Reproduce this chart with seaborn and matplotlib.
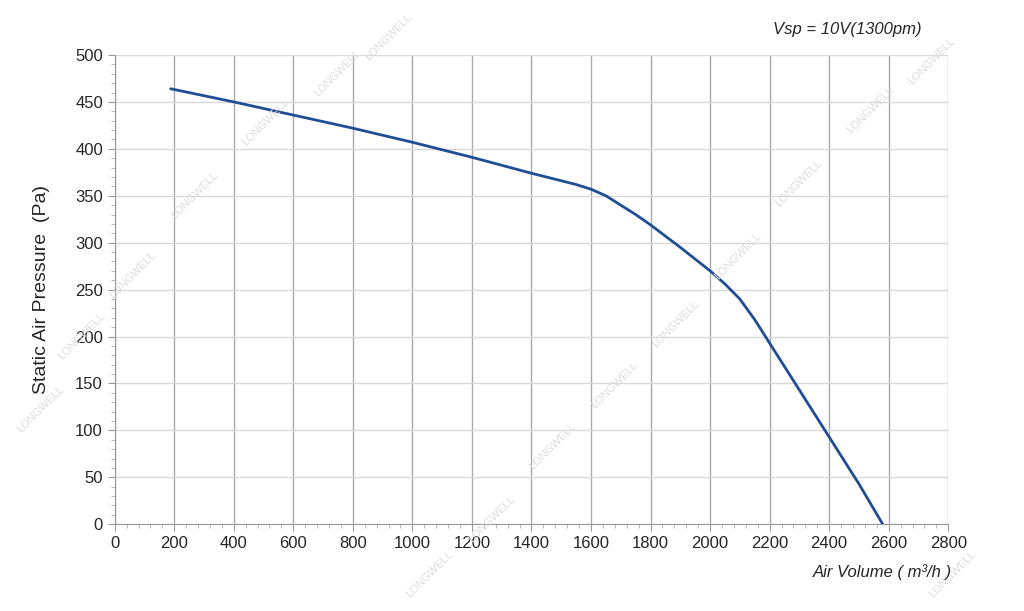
import numpy as np
import pandas as pd
import matplotlib
matplotlib.use("Agg")
import matplotlib.pyplot as plt
import seaborn as sns
from matplotlib.ticker import MultipleLocator

air_volume = [188, 400, 600, 800, 1000, 1200, 1400, 1500, 1550, 1600, 1650, 1700, 1750, 1800, 1900, 2000, 2050, 2100, 2150, 2200, 2300, 2400, 2500, 2580]
pressure = [464, 450, 436, 422, 407, 391, 374, 366, 362, 357, 350, 340, 330, 319, 295, 270, 256, 240, 218, 193, 143, 93, 43, 0]

df = pd.DataFrame({"air_volume": air_volume, "pressure": pressure})

sns.set_style("white")
plt.rcParams['font.family'] = ['Liberation Sans', 'DejaVu Sans']

fig = plt.figure(figsize=(10.24, 6.11), dpi=100)
ax = fig.add_axes([0.112, 0.142, 0.814, 0.768])

# faint watermarks
for wx, wy in [(0.04, 0.33), (0.08, 0.45), (0.13, 0.55), (0.19, 0.68), (0.26, 0.8), (0.33, 0.88),
               (0.38, 0.94), (0.42, 0.06), (0.48, 0.15), (0.54, 0.27), (0.6, 0.37), (0.66, 0.47),
               (0.72, 0.58), (0.78, 0.7), (0.85, 0.82), (0.91, 0.9), (0.93, 0.06)]:
    fig.text(wx, wy, "LONGWELL", rotation=45, color="#dcdcdc", fontsize=8, ha="center", va="center")

sns.lineplot(data=df, x="air_volume", y="pressure", ax=ax, color="#1f4e96", linewidth=2)

ax.set_xlim(0, 2800)
ax.set_ylim(0, 500)
ax.xaxis.set_major_locator(MultipleLocator(200))
ax.xaxis.set_minor_locator(MultipleLocator(40))
ax.yaxis.set_major_locator(MultipleLocator(50))
ax.yaxis.set_minor_locator(MultipleLocator(10))
ax.grid(which="major", axis="x", color="#aaaaaa", linewidth=1)
ax.grid(which="major", axis="y", color="#d9d9d9", linewidth=1)
ax.tick_params(which="major", length=5, color="#999999", labelsize=12, direction="out", bottom=True, left=True)
ax.tick_params(which="minor", length=3, color="#aaaaaa", direction="out", bottom=True, left=True)
for s in ["top", "right"]:
    ax.spines[s].set_visible(False)
for s in ["left", "bottom"]:
    ax.spines[s].set_color("#999999")

ax.set_xlabel("")
ax.set_ylabel("Static Air Pressure  (Pa)", fontsize=14, labelpad=18)
fig.text(0.93, 0.055, "Air Volume ( m³/h )", ha="right", fontsize=12, style="italic")
fig.text(0.9, 0.945, "Vsp = 10V(1300pm)", ha="right", fontsize=12, style="italic")

plt.savefig("out.png", dpi=100)
